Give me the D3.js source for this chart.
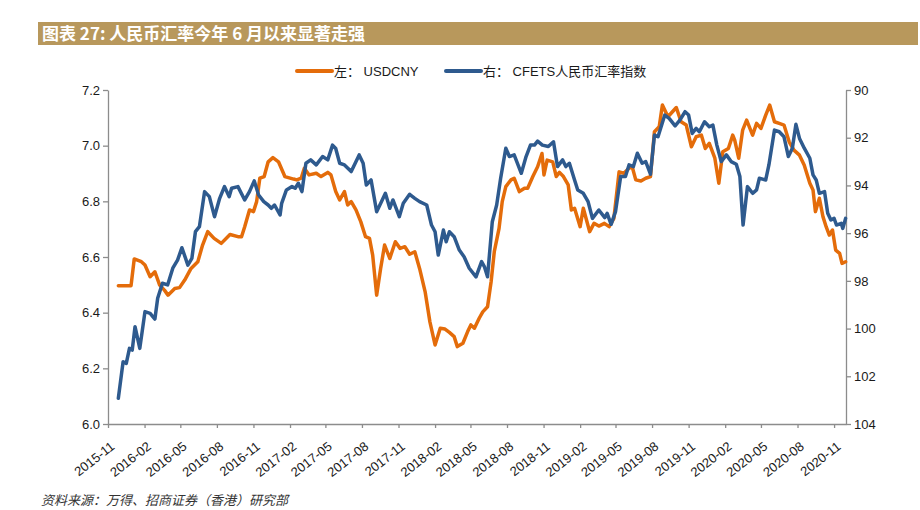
<!DOCTYPE html>
<html>
<head>
<meta charset="utf-8">
<script src="https://cdn.jsdelivr.net/npm/d3@7"></script>
<style>
    body { margin: 0; background: #fff; }
    svg { display: block; font-family: 'Liberation Sans', Arial, sans-serif; }
</style>
</head>
<body>
<div id="chart"></div>
<script>
// USDCNY (left axis)
const usdDates = ['2015-11-27','2015-12-29','2016-01-06','2016-01-24','2016-02-02','2016-02-15','2016-02-27','2016-03-10','2016-03-22','2016-03-31',
    '2016-04-17','2016-04-29','2016-05-12','2016-05-28','2016-06-14','2016-06-26','2016-07-09','2016-07-25','2016-08-12','2016-09-03',
    '2016-09-23','2016-10-02','2016-10-10','2016-10-22','2016-11-01','2016-11-09','2016-11-17','2016-11-28','2016-12-08','2016-12-20',
    '2017-01-03','2017-01-19','2017-02-10','2017-02-18','2017-03-01','2017-03-09','2017-03-21','2017-04-08','2017-04-20','2017-05-07',
    '2017-05-15','2017-05-27','2017-06-06','2017-06-18','2017-06-26','2017-07-05','2017-07-17','2017-07-29','2017-08-10','2017-08-20',
    '2017-08-28','2017-09-07','2017-09-17','2017-09-27','2017-10-10','2017-10-24','2017-11-05','2017-11-17','2017-11-29','2017-12-12',
    '2017-12-24','2018-01-07','2018-01-19','2018-02-01','2018-02-14','2018-02-26','2018-03-09','2018-03-21','2018-03-29','2018-04-12',
    '2018-04-24','2018-05-02','2018-05-11','2018-05-23','2018-06-01','2018-06-13','2018-06-22','2018-06-30','2018-07-12','2018-07-20',
    '2018-07-29','2018-08-11','2018-08-19','2018-09-01','2018-09-14','2018-09-22','2018-10-05','2018-10-17','2018-10-28','2018-11-02',
    '2018-11-10','2018-11-24','2018-12-03','2018-12-11','2018-12-21','2019-01-02','2019-01-10','2019-01-18','2019-02-01','2019-02-09',
    '2019-02-25','2019-03-08','2019-03-20','2019-04-03','2019-04-15','2019-04-27','2019-05-10','2019-05-22','2019-06-04','2019-06-12',
    '2019-06-21','2019-07-04','2019-07-16','2019-07-28','2019-08-07','2019-08-19','2019-08-27','2019-09-10','2019-10-01','2019-10-13',
    '2019-10-26','2019-11-08','2019-11-20','2019-12-03','2019-12-13','2019-12-23','2020-01-06','2020-01-16','2020-01-26','2020-02-09',
    '2020-02-20','2020-02-25','2020-03-06','2020-03-16','2020-03-26','2020-04-10','2020-04-20','2020-05-01','2020-05-13','2020-05-23',
    '2020-06-04','2020-06-16','2020-06-28','2020-07-11','2020-07-23','2020-08-06','2020-08-18','2020-09-01','2020-09-09','2020-09-15',
    '2020-09-25','2020-10-04','2020-10-12','2020-10-20','2020-10-28','2020-11-05','2020-11-15','2020-11-21','2020-11-30']
const usdValues = [6.497,6.497,6.593,6.583,6.571,6.529,6.547,6.499,6.481,6.463,
    6.487,6.490,6.517,6.559,6.583,6.643,6.691,6.667,6.649,6.681,
    6.673,6.673,6.709,6.769,6.763,6.799,6.883,6.889,6.942,6.957,
    6.942,6.889,6.880,6.877,6.883,6.919,6.895,6.901,6.889,6.904,
    6.895,6.835,6.805,6.835,6.787,6.799,6.769,6.727,6.673,6.667,
    6.607,6.463,6.559,6.643,6.595,6.655,6.631,6.637,6.610,6.619,
    6.559,6.475,6.367,6.284,6.344,6.341,6.329,6.314,6.278,6.290,
    6.332,6.356,6.344,6.380,6.403,6.421,6.511,6.619,6.703,6.799,
    6.853,6.877,6.883,6.835,6.847,6.847,6.889,6.924,6.972,6.895,
    6.948,6.942,6.889,6.904,6.889,6.859,6.769,6.775,6.709,6.775,
    6.691,6.721,6.711,6.721,6.709,6.739,6.906,6.901,6.919,6.924,
    6.877,6.873,6.883,6.889,7.050,7.068,7.146,7.104,7.137,7.086,
    7.074,6.996,7.032,7.038,6.990,7.008,6.955,6.865,6.978,6.990,
    7.038,7.020,6.955,7.056,7.092,7.038,7.080,7.062,7.110,7.146,
    7.086,7.080,7.074,7.014,6.984,6.966,6.930,6.865,6.841,6.763,
    6.811,6.745,6.709,6.679,6.697,6.625,6.613,6.577,6.583]

// CFETS 人民币汇率指数 (right axis, reversed)
const cfetsDates = ['2015-11-27','2015-12-09','2015-12-17','2015-12-25','2016-01-01','2016-01-08','2016-01-20','2016-02-02','2016-02-15','2016-02-27',
    '2016-03-05','2016-03-17','2016-03-30','2016-04-12','2016-04-24','2016-05-05','2016-05-20','2016-05-30','2016-06-08','2016-06-18',
    '2016-07-01','2016-07-13','2016-07-26','2016-08-08','2016-08-20','2016-09-01','2016-09-07','2016-09-23','2016-10-10','2016-10-22',
    '2016-11-03','2016-11-14','2016-11-27','2016-12-08','2016-12-16','2016-12-24','2017-01-07','2017-01-11','2017-01-23','2017-02-06',
    '2017-02-14','2017-02-22','2017-03-03','2017-03-13','2017-03-25','2017-04-08','2017-04-24','2017-05-07','2017-05-19','2017-05-27',
    '2017-06-06','2017-06-18','2017-07-05','2017-07-15','2017-07-25','2017-08-04','2017-08-12','2017-08-24','2017-09-07','2017-09-19',
    '2017-09-29','2017-10-10','2017-10-18','2017-11-03','2017-11-13','2017-11-29','2017-12-12','2017-12-24','2018-01-11','2018-01-23',
    '2018-02-01','2018-02-09','2018-02-22','2018-03-01','2018-03-09','2018-03-21','2018-04-03','2018-04-15','2018-04-28','2018-05-15',
    '2018-05-29','2018-06-05','2018-06-13','2018-06-25','2018-07-06','2018-07-16','2018-07-29','2018-08-07','2018-08-19','2018-09-06',
    '2018-09-18','2018-09-29','2018-10-09','2018-10-17','2018-10-29','2018-11-13','2018-11-26','2018-12-06','2018-12-19','2018-12-27',
    '2019-01-05','2019-01-18','2019-01-26','2019-02-09','2019-02-21','2019-03-04','2019-03-20','2019-04-04','2019-04-10','2019-04-20',
    '2019-05-01','2019-05-14','2019-05-26','2019-06-04','2019-06-15','2019-06-25','2019-07-07','2019-07-16','2019-07-28','2019-08-07',
    '2019-08-16','2019-09-02','2019-09-13','2019-09-28','2019-10-10','2019-10-23','2019-11-01','2019-11-10','2019-11-20','2019-11-28',
    '2019-12-11','2019-12-23','2020-01-01','2020-01-11','2020-01-22','2020-02-04','2020-02-16','2020-02-29','2020-03-09','2020-03-17',
    '2020-03-28','2020-04-10','2020-04-20','2020-04-27','2020-05-13','2020-05-21','2020-06-04','2020-06-16','2020-06-28','2020-07-09',
    '2020-07-19','2020-07-28','2020-08-06','2020-08-18','2020-09-01','2020-09-09','2020-09-17','2020-09-25','2020-10-08','2020-10-16',
    '2020-10-24','2020-11-01','2020-11-07','2020-11-19','2020-11-23','2020-11-30']
const cfetsValues = [102.92,101.39,101.46,100.83,100.90,99.92,100.83,99.29,99.36,99.60,
    98.73,98.10,98.17,97.47,97.13,96.61,97.34,97.06,95.94,95.73,
    94.26,94.47,95.31,94.54,94.05,94.47,94.12,94.05,94.61,94.26,
    93.81,94.40,94.68,94.82,94.96,94.82,95.24,94.75,94.19,94.05,
    94.12,93.91,94.26,93.07,92.93,93.14,92.79,92.93,92.31,92.45,
    93.07,93.14,93.42,93.07,92.72,93.07,93.98,93.77,95.10,94.68,
    94.33,94.96,94.61,95.31,94.75,94.37,94.54,94.68,94.82,95.66,
    95.94,96.92,95.87,96.36,95.94,96.15,96.71,96.99,97.47,97.83,
    97.19,97.40,97.83,95.52,94.82,93.70,92.44,92.79,92.72,93.49,
    92.79,92.31,92.31,92.14,92.31,92.37,92.17,93.21,92.93,93.21,
    93.07,93.77,94.19,94.33,94.68,95.38,95.03,95.35,95.17,95.63,
    95.10,93.63,93.63,93.14,93.21,92.65,93.07,93.00,93.53,91.89,
    91.96,91.05,91.19,91.50,91.26,90.91,91.05,91.82,91.61,91.75,
    91.33,91.54,91.47,92.31,93.00,92.72,93.00,93.11,93.63,95.66,
    94.05,94.33,94.19,93.70,93.77,93.14,91.68,91.75,91.96,92.79,
    92.44,91.44,92.03,92.44,92.86,93.56,93.77,94.33,94.26,95.17,
    95.45,95.38,95.66,95.59,95.80,95.38]

const tickLabels = ['2015-11','2016-02','2016-05','2016-08','2016-11','2017-02','2017-05','2017-08','2017-11','2018-02','2018-05',
    '2018-08','2018-11','2019-02','2019-05','2019-08','2019-11','2020-02','2020-05','2020-08','2020-11']
const leftTicks = [6.0, 6.2, 6.4, 6.6, 6.8, 7.0, 7.2]
const rightTicks = [90, 92, 94, 96, 98, 100, 102, 104]

const title = '图表 27: 人民币汇率今年 6 月以来显著走强'
const legendNames = ['左： USDCNY', '右： CFETS人民币汇率指数']
const source = '资料来源：万得、招商证券（香港）研究部'

const createChart = () => {
    const width = 920
    const height = 510
    const left = 108
    const right = 846
    const top = 90
    const bottom = 424
    const orange = '#e46c0a'
    const blue = '#2e5a8e'
    const axisColor = '#8c8c8c'

    const parseDay = d3.timeParse('%Y-%m-%d')
    const parseMonth = d3.timeParse('%Y-%m')

    const usd = usdDates.map((d, i) => ({ date: parseDay(d), value: usdValues[i] }))
    const cfets = cfetsDates.map((d, i) => ({ date: parseDay(d), value: cfetsValues[i] }))

    const xScale = d3.scaleTime().domain([parseMonth('2015-11'), parseMonth('2020-12')]).range([left, right])
    const yLeft = d3.scaleLinear().domain([6.0, 7.2]).range([bottom, top])
    const yRight = d3.scaleLinear().domain([90, 104]).range([top, bottom])

    const svg = d3.select('#chart')
        .append('svg')
        .attr('width', width)
        .attr('height', height)

    // title bar
    svg.append('rect')
        .attr('x', 38)
        .attr('y', 22)
        .attr('width', 880)
        .attr('height', 23)
        .attr('fill', '#b8985c')
    svg.append('text')
        .attr('x', 42)
        .attr('y', 39.5)
        .attr('fill', '#fff')
        .style('font-family', '"Noto Sans CJK SC", sans-serif')
        .style('font-weight', 'bold')
        .style('font-size', '17px')
        .text(title)

    // legend
    const legend = svg.append('g').style('font-size', '13px').attr('fill', '#1a1a1a')
    ;[[297, orange], [446, blue]].forEach(([lx, color], i) => {
        legend.append('line')
            .attr('x1', lx).attr('x2', lx + 35)
            .attr('y1', 71).attr('y2', 71)
            .attr('stroke', color)
            .attr('stroke-width', 4)
            .attr('stroke-linecap', 'round')
        legend.append('text')
            .attr('x', lx + 37)
            .attr('y', 75.5)
            .style('font-family', '"Liberation Sans", "Noto Sans CJK SC", sans-serif')
            .style('white-space', 'pre')
            .text(legendNames[i])
    })

    // axes
    const xAxis = d3.axisBottom(xScale)
        .tickValues(tickLabels.map(parseMonth))
        .tickFormat(d3.timeFormat('%Y-%m'))
        .tickSize(4)
        .tickSizeOuter(0)
    const leftAxis = d3.axisLeft(yLeft).tickValues(leftTicks).tickFormat(d3.format('.1f')).tickSize(5).tickSizeOuter(0)
    const rightAxis = d3.axisRight(yRight).tickValues(rightTicks).tickSize(5).tickSizeOuter(0)

    const gx = svg.append('g')
        .attr('transform', `translate(0, ${bottom})`)
        .call(xAxis)
    gx.selectAll('text')
        .attr('x', 0)
        .attr('y', 0)
        .attr('dy', 0)
        .attr('transform', 'translate(7, 24) rotate(-38)')
        .style('text-anchor', 'end')

    svg.append('g')
        .attr('transform', `translate(${left}, 0)`)
        .call(leftAxis)
    svg.append('g')
        .attr('transform', `translate(${right}, 0)`)
        .call(rightAxis)

    svg.selectAll('.domain, .tick line').attr('stroke', axisColor).attr('stroke-width', 1.3)
    svg.selectAll('.tick text')
        .attr('fill', '#1a1a1a')
        .style('font-family', '"Liberation Sans", Arial, sans-serif')
        .style('font-size', '13px')

    // lines
    const usdLine = d3.line().x((d) => xScale(d.date)).y((d) => yLeft(d.value))
    const cfetsLine = d3.line().x((d) => xScale(d.date)).y((d) => yRight(d.value))

    svg.append('path')
        .datum(usd)
        .attr('d', usdLine)
        .attr('fill', 'none')
        .attr('stroke', orange)
        .attr('stroke-width', 3.5)
        .attr('stroke-linejoin', 'round')
        .attr('stroke-linecap', 'round')
    svg.append('path')
        .datum(cfets)
        .attr('d', cfetsLine)
        .attr('fill', 'none')
        .attr('stroke', blue)
        .attr('stroke-width', 3.5)
        .attr('stroke-linejoin', 'round')
        .attr('stroke-linecap', 'round')

    // source note
    svg.append('text')
        .attr('x', 41)
        .attr('y', 505)
        .attr('fill', '#333')
        .style('font-family', '"Noto Sans CJK SC", sans-serif')
        .style('font-style', 'italic')
        .style('font-size', '13px')
        .text(source)
}

createChart()
</script>
</body>
</html>
